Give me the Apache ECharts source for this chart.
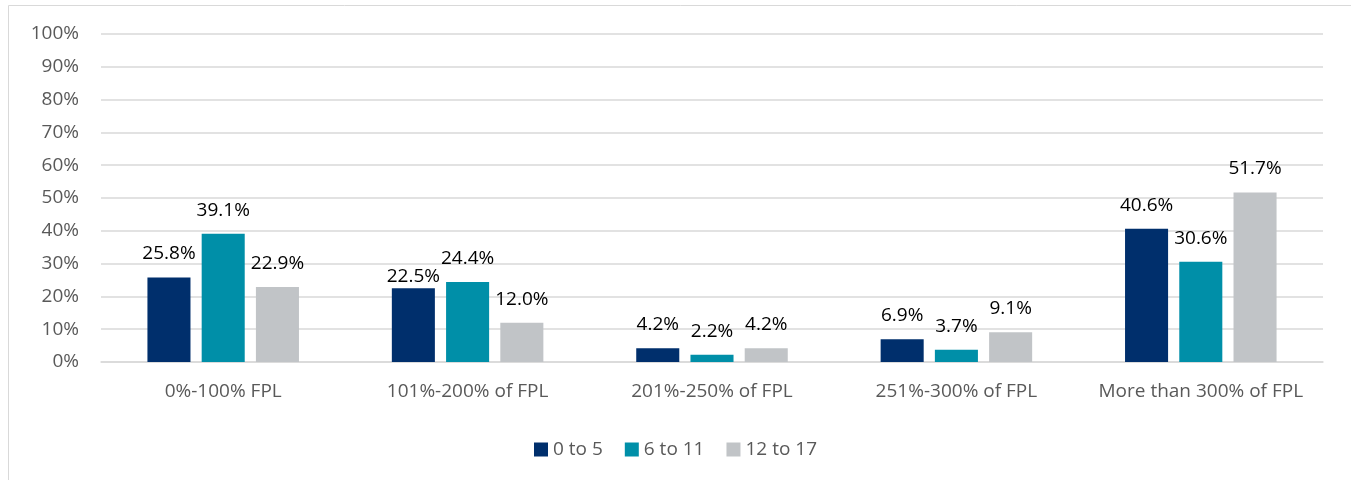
<!DOCTYPE html>
<html>
<head>
<meta charset="utf-8">
<script src="https://cdn.jsdelivr.net/npm/echarts@6/dist/echarts.min.js"></script>
<style>
  html, body { margin: 0; padding: 0; background: #fff; }
  #main { width: 1351px; height: 480px; }
</style>
</head>
<body>
<div id="main"></div>
<script>
// categories and series (percent)
var categories = ['0%-100% FPL', '101%-200% of FPL', '201%-250% of FPL', '251%-300% of FPL', 'More than 300% of FPL'];
var age0to5 = [25.8, 22.5, 4.2, 6.9, 40.6];
var age6to11 = [39.1, 24.4, 2.2, 3.7, 30.6];
var age12to17 = [22.9, 12.0, 4.2, 9.1, 51.7];
var seriesNames = ['0 to 5', '6 to 11', '12 to 17'];
var colors = ['#002F6C', '#008FA8', '#C1C4C7'];

var myChart = echarts.init(document.getElementById('main'));

// label distance tweaks (series index -> category index -> distance), like the hand-moved labels in the original
var labelDistance = { 0: { 1: 2 } };

function makeSeries(idx, data) {
    return {
        name: seriesNames[idx],
        type: 'bar',
        barGap: '26%',
        barCategoryGap: '38%',
        itemStyle: { color: colors[idx] },
        data: data.map(function (v, i) {
            var d = labelDistance[idx] && labelDistance[idx][i];
            return d === undefined ? v : { value: v, label: { distance: d } };
        }),
        label: {
            show: true,
            position: 'top',
            distance: 14,
            color: '#000',
            fontFamily: 'Open Sans',
            fontSize: 19,
            formatter: function (p) { return p.value.toFixed(1) + '%'; }
        }
    };
}

myChart.setOption({
    animation: false,
    color: colors,
    graphic: [{
        type: 'rect',
        shape: { x: 8.5, y: 5.5, width: 1400, height: 500 },
        style: { fill: 'none', stroke: '#D9D9D9', lineWidth: 1 },
        silent: true
    }],
    grid: { left: 101, right: 28, top: 34, bottom: 118 },
    legend: {
        top: 435,
        left: 'center',
        itemWidth: 14,
        itemHeight: 14,
        itemGap: 22,
        icon: 'rect',
        textStyle: { color: '#595959', fontFamily: 'Open Sans', fontSize: 19 },
        data: seriesNames
    },
    xAxis: {
        type: 'category',
        data: categories,
        axisLine: { lineStyle: { color: '#D9D9D9', width: 1.5 } },
        axisTick: { show: false },
        axisLabel: { interval: 0, color: '#595959', fontFamily: 'Open Sans', fontSize: 19, margin: 20 }
    },
    yAxis: {
        type: 'value',
        min: 0,
        max: 100,
        interval: 10,
        axisLine: { show: false },
        axisTick: { show: false },
        splitLine: { lineStyle: { color: '#D9D9D9', width: 1.5 } },
        axisLabel: {
            color: '#595959',
            fontFamily: 'Open Sans',
            fontSize: 19,
            margin: 22,
            formatter: '{value}%'
        }
    },
    series: [
        makeSeries(0, age0to5),
        makeSeries(1, age6to11),
        makeSeries(2, age12to17)
    ]
});
</script>
</body>
</html>
